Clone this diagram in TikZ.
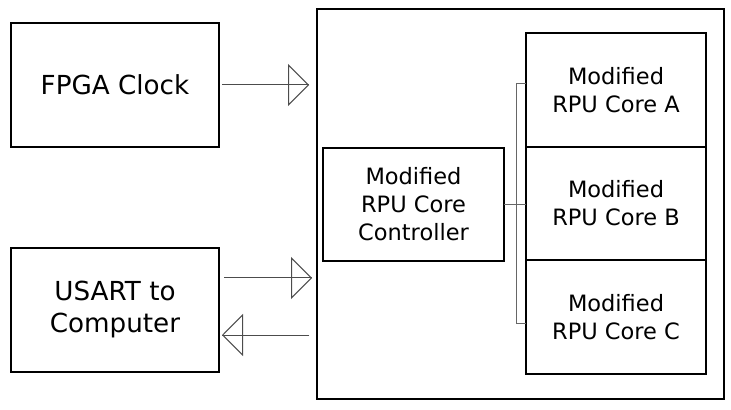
\documentclass[tikz,border=0pt]{standalone}
\usepackage{fontspec}
\setmainfont{DejaVu Sans}
\usetikzlibrary{arrows.meta,positioning}
\begin{document}
\begin{tikzpicture}[x=0.5pt, y=-0.5pt,
  block/.style={draw, line width=1pt, outer sep=0pt, inner sep=0pt, align=center},
  big/.style={block, minimum width=104pt, minimum height=62pt, font=\fontsize{13.1}{16}\selectfont},
  core/.style={block, minimum width=90pt, minimum height=56.7pt, font=\fontsize{11.25}{14}\selectfont},
  bus/.style={draw=black!60, line width=0.5pt},
  flow/.style={draw=black!70, line width=0.5pt, -{Triangle[open, length=10.5pt, width=21pt]}, postaction={draw, -}}]
\useasboundingbox (0,0) rectangle (731,410);
\node[big] (clk) at (115,85) {FPGA Clock};
\node[big] (usart) at (115,310) {USART to\\Computer};
\node[block, line width=1.2pt, minimum width=203.5pt, minimum height=195pt] (sys) at (520.5,204) {};
\node[core, minimum width=90.5pt] (ctrl) at (413.5,204.5) {Modified\\RPU Core\\Controller};
\node[core] (coreA) at (616,90) {Modified\\RPU Core A};
\node[core, below=0pt of coreA] (coreB) {Modified\\RPU Core B};
\node[core, below=0pt of coreB] (coreC) {Modified\\RPU Core C};
\coordinate (tx) at ([yshift=16pt]usart.east);
\coordinate (rx) at ([yshift=-12.5pt]usart.east);
\draw[flow, shorten <=1.5pt, shorten >=4pt] (clk) -- (clk -| sys.west);
\draw[flow, shorten <=2.5pt, shorten >=2.5pt] (tx) -- (tx -| sys.west);
\draw[flow, shorten <=4pt, shorten >=1.5pt] (rx -| sys.west) -- (rx);
\draw[bus] (ctrl) -- (ctrl -| coreB.west);
\draw[bus] ([yshift=3pt]coreA.west) -- ++(-5pt,0) |- ([yshift=-3.5pt]coreC.west);
\end{tikzpicture}
\end{document}
